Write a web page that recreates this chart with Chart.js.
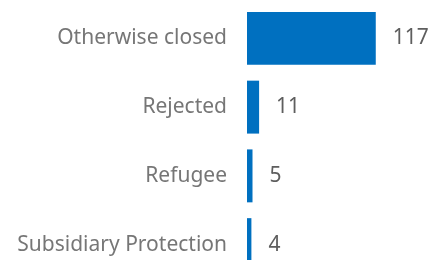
<!DOCTYPE html>
<html>
<head>
<meta charset="utf-8">
<script src="https://cdn.jsdelivr.net/npm/chart.js@4"></script>
<style>
  html, body { margin: 0; padding: 0; background: #fff; overflow: hidden; }
  #wrap { position: relative; width: 433px; height: 279px; }
</style>
</head>
<body>
<div id="wrap"><canvas id="chart-main"></canvas></div>
<script>
const categories = ['Otherwise closed', 'Rejected', 'Refugee', 'Subsidiary Protection'];
const counts = [117, 11, 5, 4];

const FONT = "'Noto Sans', 'Open Sans', sans-serif";

// value labels to the right of each bar
const valueLabels = {
  id: 'valueLabels',
  afterDatasetsDraw: (chart) => {
    const ctx = chart.ctx;
    const meta = chart.getDatasetMeta(0);
    ctx.save();
    ctx.font = `400 21px ${FONT}`;
    ctx.fillStyle = '#5e5e5e';
    ctx.textAlign = 'left';
    ctx.textBaseline = 'middle';
    meta.data.forEach((bar, i) => {
      ctx.fillText(String(counts[i]), bar.x + 17, bar.y);
    });
    ctx.restore();
  }
};

new Chart(document.getElementById('chart-main'), {
  type: 'bar',
  data: {
    labels: categories,
    datasets: [{
      data: counts,
      backgroundColor: '#0070C0',
      borderWidth: 0,
      categoryPercentage: 1,
      barPercentage: 0.77
    }]
  },
  options: {
    indexAxis: 'y',
    responsive: true,
    maintainAspectRatio: false,
    animation: false,
    layout: { padding: { top: 4, right: 0, bottom: 0, left: 0 } },
    plugins: { legend: { display: false }, tooltip: { enabled: false } },
    scales: {
      x: { display: false, min: 0, max: 169 },
      y: {
        afterFit: (scale) => {
          scale.width = 247;
          scale.paddingTop = 0;
          scale.paddingBottom = 0;
        },
        grid: { display: false, drawTicks: false },
        border: { display: false },
        ticks: {
          padding: 20,
          color: '#767676',
          font: { family: FONT, size: 21 }
        }
      }
    }
  },
  plugins: [valueLabels]
});
</script>
</body>
</html>
